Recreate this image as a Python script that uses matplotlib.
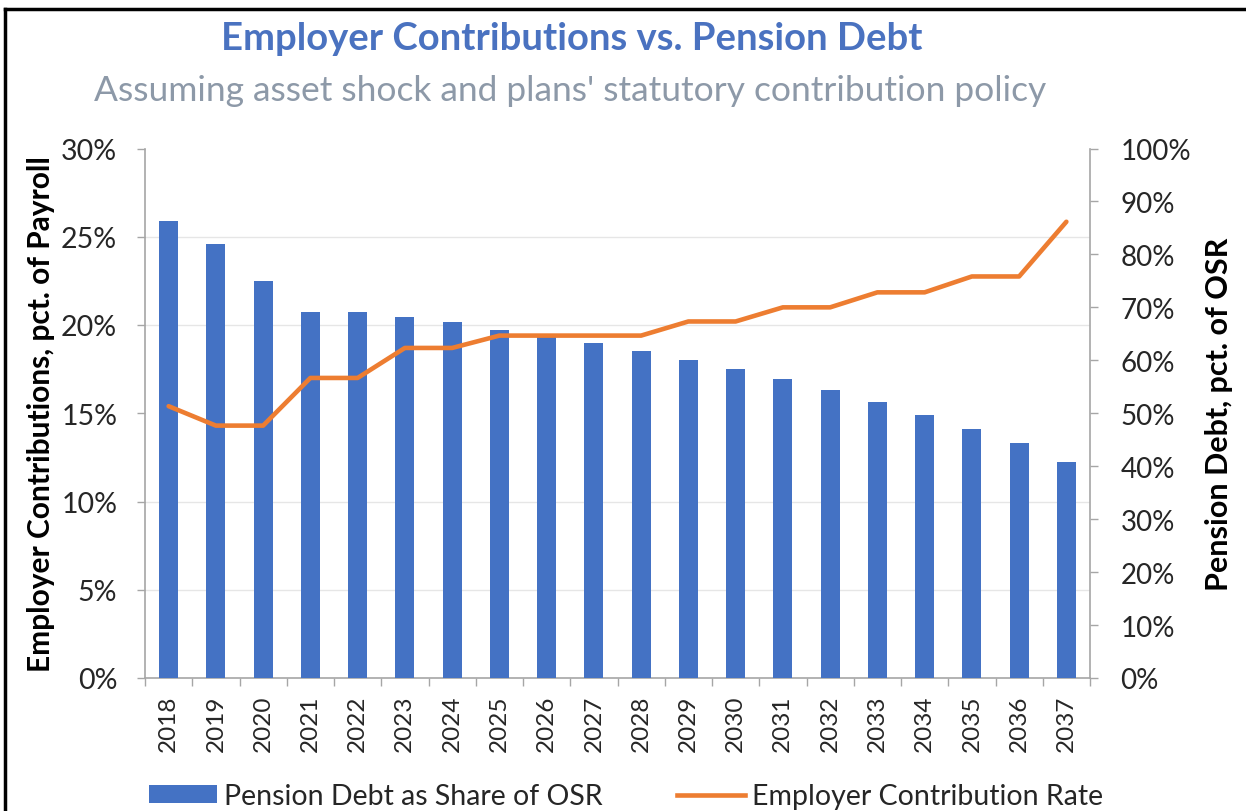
import numpy as np
import matplotlib
matplotlib.use("Agg")
import matplotlib.pyplot as plt
from matplotlib.patches import Patch
from matplotlib.lines import Line2D
from matplotlib.ticker import FuncFormatter, FixedLocator

plt.rcParams['font.family'] = ['Lato', 'DejaVu Sans']

years = [str(y) for y in range(2018, 2038)]
pension_debt = [86.3, 81.9, 75.0, 69.2, 69.2, 68.2, 67.2, 65.7, 64.4, 63.3,
                61.8, 60.1, 58.4, 56.4, 54.4, 52.1, 49.7, 47.0, 44.4, 40.7]
contribution_rate = [15.4, 14.3, 14.3, 17.0, 17.0, 18.7, 18.7, 19.4, 19.4, 19.4,
                     19.4, 20.2, 20.2, 21.0, 21.0, 21.85, 21.85, 22.75, 22.75, 25.85]

BLUE = '#4472C4'
ORANGE = '#ED7D31'
AXIS_GRAY = '#a6a6a6'
TEXT = '#262626'
pct = FuncFormatter(lambda v, p: f'{v:.0f}%')

fig = plt.figure(figsize=(12.46, 8.12), dpi=100)
ax = fig.add_axes([145 / 1246, 1 - 679 / 812, 945 / 1246, 529.5 / 812])
ax2 = ax.twinx()
x = np.arange(len(years))

# bars: pension debt on the right-hand scale
ax.bar(x, pension_debt, width=0.4, color=BLUE, zorder=3)
ax.set_ylim(0, 100)
ax.set_xlim(-0.5, len(years) - 0.5)
ax.yaxis.tick_right()
ax.yaxis.set_label_position('right')
ax.set_yticks(np.arange(0, 101, 10))
ax.yaxis.set_minor_locator(FixedLocator(np.linspace(0, 100, 7)))
ax.yaxis.set_major_formatter(pct)
ax.grid(which='minor', axis='y', color='#e6e6e6', lw=1.0, zorder=0)
ax.tick_params(axis='y', which='major', length=6, width=1, color=AXIS_GRAY,
               labelsize=20, labelcolor=TEXT, pad=16)
ax.tick_params(axis='y', which='minor', length=0)

# x axis: year labels with ticks between categories
ax.set_xticks(x)
ax.set_xticklabels(years, rotation=90)
ax.set_xticks(np.arange(-0.5, len(years), 1), minor=True)
ax.tick_params(axis='x', which='major', length=0, labelsize=17.5,
               labelcolor=TEXT, pad=12)
ax.tick_params(axis='x', which='minor', length=6, width=1, color=AXIS_GRAY)

ax.set_ylabel('Pension Debt, pct. of OSR', fontsize=22, fontweight='bold',
              color='black')
ax.yaxis.set_label_coords(1.1217, 0.5)

ax.spines['top'].set_visible(False)
for side in ['left', 'right', 'bottom']:
    ax.spines[side].set_color(AXIS_GRAY)
    ax.spines[side].set_linewidth(1.2)

# line: employer contributions on the left-hand scale
ax2.plot(x, contribution_rate, color=ORANGE, lw=3.3,
         solid_joinstyle='round', solid_capstyle='round', zorder=4)
ax2.set_ylim(0, 30)
ax2.yaxis.tick_left()
ax2.yaxis.set_label_position('left')
ax2.set_yticks(np.arange(0, 31, 5))
ax2.yaxis.set_major_formatter(pct)
ax2.tick_params(axis='y', length=6, width=1, color=AXIS_GRAY,
                labelsize=20.5, labelcolor=TEXT, pad=14)
ax2.set_ylabel('Employer Contributions, pct. of Payroll', fontsize=21.5,
               fontweight='bold', color='black')
ax2.yaxis.set_label_coords(-0.095, 0.5)
for side in ['top', 'right', 'bottom', 'left']:
    ax2.spines[side].set_visible(False)

# titles
fig.text(0.4587, 1 - 39 / 812, 'Employer Contributions vs. Pension Debt',
         ha='center', va='center', fontsize=27.5, fontweight='bold',
         color='#4a72c0')
fig.text(0.4575, 1 - 91 / 812,
         "Assuming asset shock and plans' statutory contribution policy",
         ha='center', va='center', fontsize=25.5, color='#8d99a8')

# legend along the bottom edge
handles = [Patch(facecolor=BLUE, edgecolor='none'),
           Line2D([0], [0], color=ORANGE, lw=3.3)]
fig.legend(handles, ['Pension Debt as Share of OSR', 'Employer Contribution Rate'],
           loc='center', bbox_to_anchor=(0.5024, 1 - 797 / 812), ncol=2,
           frameon=False, fontsize=20.5, handlelength=2.4, handleheight=0.55,
           handletextpad=0.25, columnspacing=2.6, labelcolor=TEXT,
           borderpad=0.0)

# outer frame
fig.add_artist(Line2D([5 / 1246, 5 / 1246], [0, 1 - 10 / 812],
                      transform=fig.transFigure, color='black', lw=2.5))
fig.add_artist(Line2D([5 / 1246, 1], [1 - 10 / 812, 1 - 10 / 812],
                      transform=fig.transFigure, color='black', lw=2.5))

fig.savefig('out.png', dpi=100)
